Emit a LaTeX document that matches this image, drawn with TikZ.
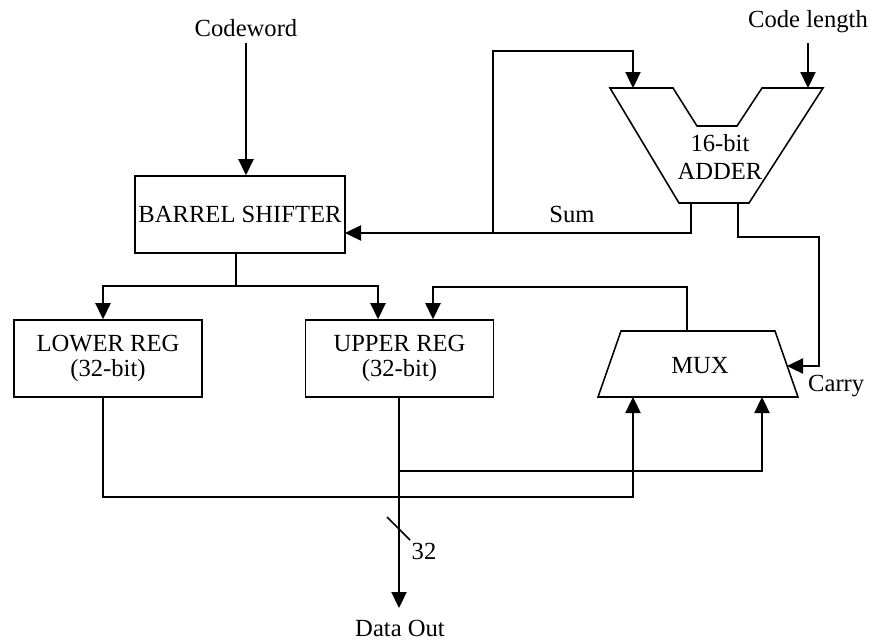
\documentclass[tikz,border=0pt]{standalone}
\usepackage{fontspec}
\setmainfont{Liberation Serif}
\usetikzlibrary{arrows.meta}

\begin{document}
\begin{tikzpicture}[
  x=0.025cm, y=-0.025cm,
  font=\fontsize{17.5}{18}\selectfont,
  >={Triangle[length=4mm, width=3.8mm]},
  line width=1.1pt,
  bloco/.style={draw, align=center, minimum height=1.925cm, inner sep=2pt},
  rotulo/.style={align=center, inner sep=1pt},
  fio/.style={-},
  seta/.style={->}
]
\useasboundingbox (0,0) rectangle (870,640);

% ---------- Entradas (topo) ----------
\node[rotulo] (cw)  at (246,28) {Codeword};
\node[rotulo] (len) at (808,22) {Code length};

% ---------- Barrel shifter e registradores ----------
\node[bloco, minimum width=5.25cm] (shifter) at (240,214.5) {BARREL SHIFTER};
\node[bloco, minimum width=4.7cm]  (lower)   at (108,358.5) {LOWER REG\\(32-bit)};
\node[bloco, minimum width=4.7cm]  (upper)   at (399.5,358.5) {UPPER REG\\(32-bit)};

% ---------- Somador (trapézio com entalhe) ----------
\draw (610,88) -- (673,88) -- (697,126) -- (737,126) -- (762,88) -- (823,88)
      -- (749,203) -- (679,203) -- cycle;
\node[rotulo, font=\fontsize{17.5}{20}\selectfont] (adder) at (720,157) {16-bit\\ADDER};
\coordinate (adInA)  at (633,88);
\coordinate (adInB)  at (808,88);
\coordinate (adSum)  at (691,203);
\coordinate (adCry)  at (738,203);

% ---------- Multiplexador ----------
\draw (621,331) -- (775,331) -- (798,397) -- (598,397) -- cycle;
\node[rotulo] (mux) at (700,366) {MUX};
\coordinate (muxOut) at (687,331);
\coordinate (muxIn0) at (633,397);
\coordinate (muxIn1) at (762,397);
\coordinate (muxSel) at (787,366);

% ---------- Pontos auxiliares ----------
\coordinate (shIn)   at (345,233);
\coordinate (fbTap)  at (493,233);
\coordinate (split)  at (236,286);
\coordinate (upTap)  at (399,471);
\coordinate (dout)   at (399,608);

% ---------- Setas de entrada ----------
\draw[seta] (cw.south |- 0,43) -- (shifter.north -| cw);
\draw[seta] (len.south |- 0,43) -- (adInB);

% ---------- Shifter -> registradores ----------
\draw[fio] (shifter.south -| split) -- (split);
\draw[seta] (split) -| (lower.north -| 103,0);
\draw[seta] (split) -| (upper.north -| 378,0);

% ---------- Soma, realimentação e carry ----------
\draw[seta] (adSum) |- (shIn);
\draw[seta] (fbTap) -- (493,51) -| (adInA);
\draw[seta] (adCry) -- (738,237) -| (819,366) -- (muxSel);
\node[rotulo, anchor=west] (cry) at (806,386) {Carry};
\node[rotulo] (sum) at (572,214) {Sum};

% ---------- MUX -> upper reg ----------
\draw[seta] (muxOut) -- (687,287) -| (upper.north -| 433,0);

% ---------- Saídas dos registradores ----------
\draw[seta] (lower.south -| 103,0) -- (103,497) -| (muxIn0);
\draw[seta] (upper.south -| upTap) -- (dout);
\draw[seta] (upTap) -| (muxIn1);

% ---------- Barramento de saída ----------
\draw (387,517) -- (410,540);
\node[rotulo] (w32) at (424,551) {32};
\node[rotulo] (out) at (400,628) {Data Out};

\end{tikzpicture}
\end{document}
